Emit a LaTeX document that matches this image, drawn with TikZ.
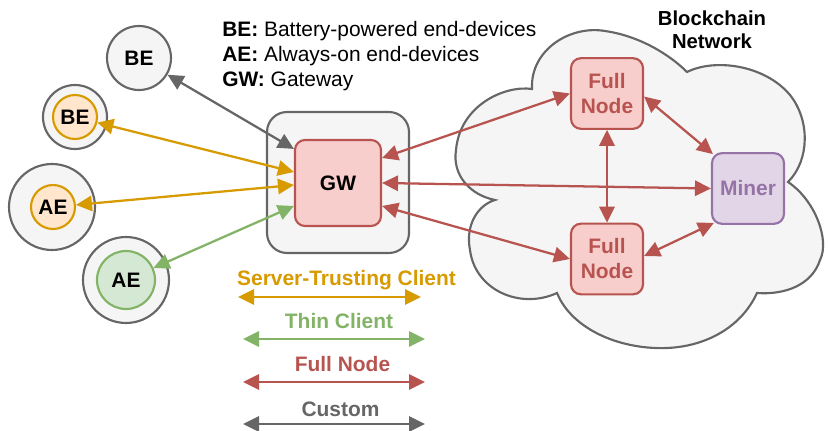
\documentclass[tikz,border=0pt]{standalone}
\usepackage{fontspec}
\setmainfont{Liberation Sans}
\usetikzlibrary{arrows.meta,calc}
\definecolor{cgray}{HTML}{666666}
\definecolor{cgrayf}{HTML}{F5F5F5}
\definecolor{corange}{HTML}{D79B00}
\definecolor{corangef}{HTML}{FFE6CC}
\definecolor{cgreen}{HTML}{82B366}
\definecolor{cgreenf}{HTML}{D5E8D4}
\definecolor{cred}{HTML}{B85450}
\definecolor{credf}{HTML}{F8CECC}
\definecolor{cpurple}{HTML}{9673A6}
\definecolor{cpurplef}{HTML}{E1D5E7}
\begin{document}
\begin{tikzpicture}[x=0.75pt,y=-0.75pt,
  txt/.style={font=\fontsize{15.7}{18.75}\selectfont},
  btxt/.style={font=\fontsize{15.7}{18.75}\selectfont\bfseries},
  circ/.style={circle, line width=1.6pt, inner sep=0pt, btxt},
  outercirc/.style={circ, draw=cgray, fill=cgrayf},
  orangecirc/.style={circ, draw=corange, fill=corangef, minimum size=33pt},
  greencirc/.style={circ, draw=cgreen, fill=cgreenf, minimum size=43.5pt},
  box/.style={rectangle, rounded corners=7.5pt, line width=1.6pt, inner sep=0pt, btxt, align=center},
  redbox/.style={box, draw=cred, fill=credf, text=cred, minimum width=54pt, minimum height=53pt},
  arr/.style={line width=1.7pt, {Triangle[length=12pt,width=11.5pt]}-{Triangle[length=12pt,width=11.5pt]}}
]
\useasboundingbox (0,0) rectangle (828,431);

% cloud
\path[draw=cgray, fill=cgrayf, line width=1.6pt] (495,200)
 .. controls (470,195) and (452,175) .. (456,150)
 .. controls (460,105) and (505,85) .. (532,89)
 .. controls (530,50) and (570,25) .. (605,31)
 .. controls (640,36) and (670,55) .. (687,72)
 .. controls (715,58) and (765,65) .. (790,95)
 .. controls (810,120) and (810,160) .. (788,182)
 .. controls (815,200) and (830,240) .. (820,260)
 .. controls (812,285) and (785,295) .. (757,293)
 .. controls (740,330) and (700,350) .. (655,348)
 .. controls (610,346) and (570,325) .. (557,293)
 .. controls (520,310) and (475,290) .. (470,250)
 .. controls (465,225) and (478,205) .. (495,200) -- cycle;

\node[btxt, align=center, font=\fontsize{15.2}{17.25}\selectfont\bfseries] (bcn) at (712,30) {Blockchain\\Network};

% legend text top
\node[txt, anchor=base west, inner sep=0pt] (lg1) at (222,37) {\textbf{BE:} Battery-powered end-devices};
\node[txt, anchor=base west, inner sep=0pt] (lg2) at (222,62) {\textbf{AE:} Always-on end-devices};
\node[txt, anchor=base west, inner sep=0pt] (lg3) at (222,87) {\textbf{GW:} Gateway};

% gateway
\node[box, draw=cgray, fill=cgrayf, rounded corners=15pt, minimum width=106.5pt, minimum height=105.75pt] (gwbox) at (338,182.5) {};
\node[box, draw=cred, fill=credf, minimum width=64.5pt, minimum height=64.5pt] (gw) at (338,183) {GW};

% network nodes
\node[redbox] (fn1) at (607,93.5) {Full\\Node};
\node[redbox] (fn2) at (607,259) {Full\\Node};
\node[box, draw=cpurple, fill=cpurplef, text=cpurple, minimum width=54pt, minimum height=53pt] (miner) at (748,188.5) {Miner};

% end devices
\node[outercirc, minimum size=48pt] (be1) at (139,58) {BE};
\node[outercirc, minimum size=48pt] (be2out) at (75,117) {};
\node[orangecirc] (be2) at (75,117) {BE};
\node[outercirc, minimum size=64.5pt] (ae1out) at (52,207) {};
\node[orangecirc] (ae1) at (53,207) {AE};
\node[outercirc, minimum size=64.5pt] (ae2out) at (126,280) {};
\node[greencirc] (ae2) at (126,280) {AE};

% connectors
\draw[arr, cgray] (be1) -- ($(gw.north west)+(0,10)$);
\draw[arr, corange] (be2) -- ($(gw.west)+(0,-11)$);
\draw[arr, corange] (ae1) -- ($(gw.west)+(0,2)$);
\draw[arr, cgreen] (ae2) -- ($(gw.west)+(0,23)$);
\draw[arr, cred] ($(gw.east)+(0,-25)$) -- (fn1.west);
\draw[arr, cred] (gw.east) -- (miner.west);
\draw[arr, cred] ($(gw.east)+(0,23)$) -- (fn2.west);
\draw[arr, cred] (fn1) -- (fn2);
\draw[arr, cred] ($(fn1.east)+(0,3)$) -- ($(miner.north west)+(2,2)$);
\draw[arr, cred] ($(fn2.east)+(0,-3)$) -- ($(miner.south west)+(3,-2)$);

% legend arrows
\coordinate (l1a) at (238,297); \coordinate (l1b) at (421,297);
\coordinate (l2a) at (243,339); \coordinate (l2b) at (425,339);
\coordinate (l3a) at (243,382); \coordinate (l3b) at (425,382);
\coordinate (l4a) at (243,424); \coordinate (l4b) at (425,424);
\node[btxt, text=corange, anchor=base, inner sep=0pt] (t1) at (346.5,285) {Server-Trusting Client};
\node[btxt, text=cgreen, anchor=base, inner sep=0pt] (t2) at (339,328) {Thin Client};
\node[btxt, text=cred, anchor=base, inner sep=0pt] (t3) at (342.5,371) {Full Node};
\node[btxt, text=cgray, anchor=base, inner sep=0pt] (t4) at (340.5,416) {Custom};
\draw[arr, corange] (l1a) -- (l1b);
\draw[arr, cgreen] (l2a) -- (l2b);
\draw[arr, cred] (l3a) -- (l3b);
\draw[arr, cgray] (l4a) -- (l4b);
\end{tikzpicture}
\end{document}
